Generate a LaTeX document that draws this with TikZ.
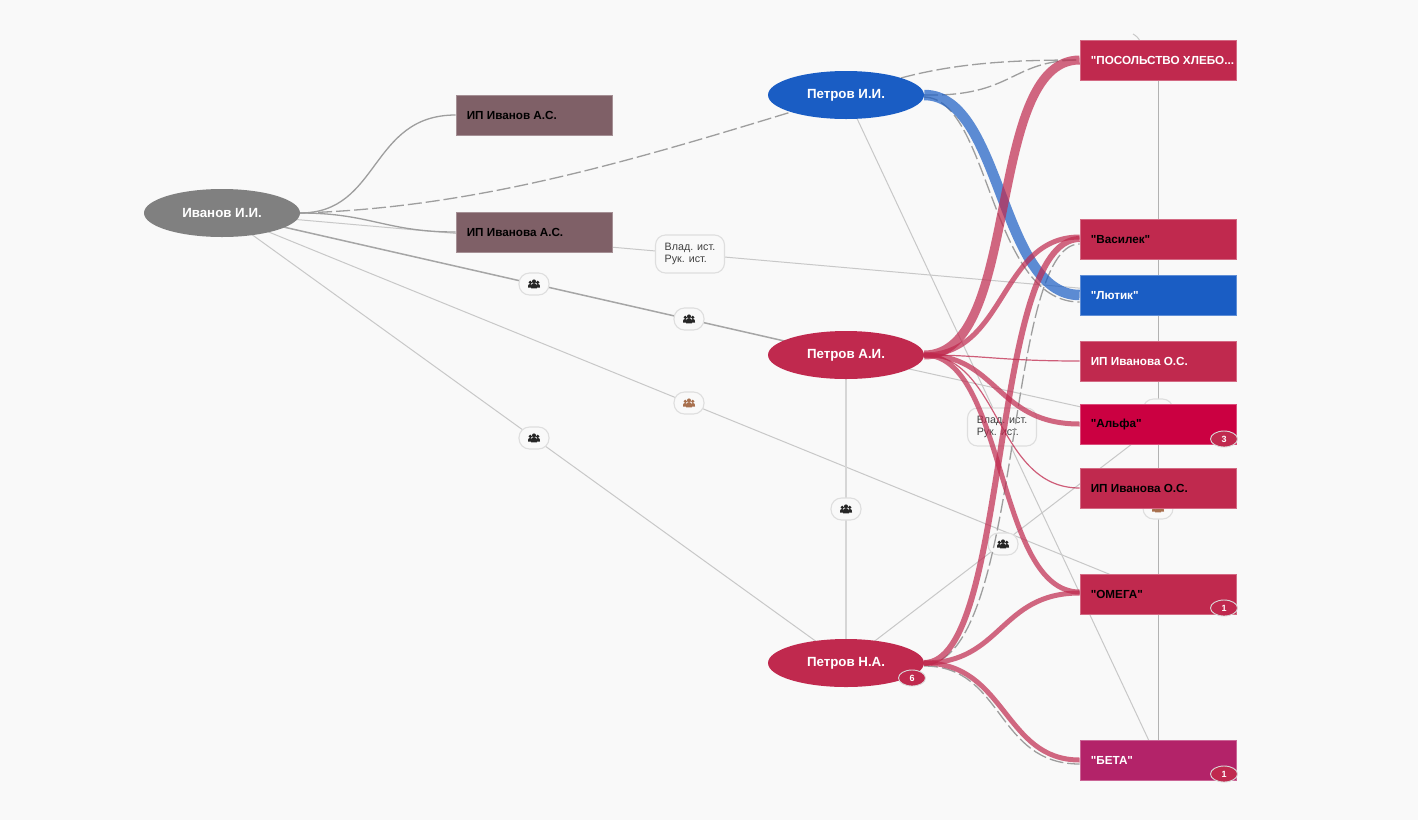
\documentclass[tikz,border=0pt]{standalone}
\usepackage{fontspec}
\setmainfont{Liberation Sans}
\newfontfamily\lib{Liberation Sans}
\usetikzlibrary{shapes.geometric,calc}
\definecolor{bgc}{HTML}{F9F9F9}
\definecolor{crim}{HTML}{C0294E}
\definecolor{blu}{HTML}{1A5DC4}
\definecolor{mauve}{HTML}{7F6067}
\definecolor{gry}{HTML}{808080}
\definecolor{alf}{HTML}{CB0041}
\definecolor{bet}{HTML}{B32369}
\definecolor{brwn}{HTML}{A8704E}
\definecolor{thin}{HTML}{C8C8C8}
\pgfdeclarelayer{paper}\pgfdeclarelayer{lines}\pgfdeclarelayer{pills}\pgfdeclarelayer{thick}
\pgfsetlayers{paper,lines,pills,thick,main}
\tikzset{
 person/.style={ellipse,minimum width=156pt,minimum height=48pt,inner sep=0pt,text=white,font=\lib\fontsize{13.3}{15}\selectfont\bfseries},
 boxshape/.style={rectangle,minimum width=156pt,minimum height=40pt,inner sep=0pt,line width=0.8pt},
 boxtext/.style={anchor=west,inner sep=0pt,font=\lib\fontsize{11.7}{14}\selectfont\bfseries},
 badge/.style={ellipse,fill=crim,draw=white!85!black,line width=0.9pt,minimum width=27pt,minimum height=16pt,inner sep=0pt,text=white,font=\lib\fontsize{9}{10}\selectfont\bfseries},
 pill/.style={rectangle,rounded corners=10.5pt,fill=bgc,draw=black!13,line width=1.1pt,minimum width=30pt,minimum height=22pt,inner sep=0pt},
 lblpill/.style={rectangle,rounded corners=10pt,fill=bgc,draw=black!13,line width=1.1pt,minimum width=69pt,minimum height=38pt,inner sep=0pt,align=left,text=black!75,font=\lib\fontsize{10.7}{12.5}\selectfont},
 thinline/.style={draw=thin,line width=1pt},
 softcurve/.style={draw=black!38,line width=1.3pt},
 dashline/.style={draw=black!38,line width=1.3pt,dash pattern=on 14pt off 4pt},
 redbig/.style={draw=crim,draw opacity=.7,line width=9pt},
 redmid/.style={draw=crim,draw opacity=.7,line width=5pt},
 redlow/.style={draw=crim,draw opacity=.75,line width=1.2pt},
 blueband/.style={draw=blu,draw opacity=.7,line width=10.5pt},
 pics/people/.style={code={
   \fill[#1] (-3.7,-1.6) circle (1.8pt) (3.7,-1.6) circle (1.8pt) (0,-2.6) circle (2pt);
   \fill[#1] (-6,3.6) .. controls (-6,0) and (-5,0) .. (-3.7,0) .. controls (-2.4,0) and (-2,1) .. (-2,3.6) -- cycle;
   \fill[#1] (6,3.6) .. controls (6,0) and (5,0) .. (3.7,0) .. controls (2.4,0) and (2,1) .. (2,3.6) -- cycle;
   \fill[#1] (-3,4.4) .. controls (-3,-0.6) and (-1.5,-0.9) .. (0,-0.9) .. controls (1.5,-0.9) and (3,-0.6) .. (3,4.4) -- cycle;
 }}
}
\newcommand{\ebox}[6]{% name, x, y, fill, text colour, text
 \node[boxshape,fill=#4,draw=#4!70!white] (#1) at (#2,#3) {};
 \node[boxtext,text=#5] (#1t) at ([xshift=11pt,yshift=-0.5pt]#1.west) {#6};
}
\begin{document}
\begin{tikzpicture}[x=1pt,y=-1pt]
\useasboundingbox (0,0) rectangle (1418,820);
\begin{pgfonlayer}{paper}
\fill[bgc] (0,0) rectangle (1418,820);
\end{pgfonlayer}
% people
\node[person,fill=gry] (iv) at (222,213) {Иванов И.И.};
\node[person,fill=blu] (pi) at (846,95) {Петров И.И.};
\node[person,fill=crim] (pa) at (846,355) {Петров А.И.};
\node[person,fill=crim] (pn) at (846,663) {Петров Н.А.};
% boxes
\ebox{ipa}{534}{115}{mauve}{black}{ИП Иванов А.С.}
\ebox{ipb}{534}{232}{mauve}{black}{ИП Иванова А.С.}
\ebox{pos}{1158}{60}{crim}{white}{"ПОСОЛЬСТВО ХЛЕБО...}
\ebox{vas}{1158}{239}{crim}{black}{"Василек"}
\ebox{lut}{1158}{295}{blu}{white}{"Лютик"}
\ebox{ipo}{1158}{361}{crim}{white}{ИП Иванова О.С.}
\ebox{alfa}{1158}{424}{alf}{black}{"Альфа"}
\ebox{ipp}{1158}{488}{crim}{black}{ИП Иванова О.С.}
\ebox{om}{1158}{594}{crim}{black}{"ОМЕГА"}
\ebox{beta}{1158}{760}{bet}{white}{"БЕТА"}
% badges
\node[badge] (b3) at (1224,439) {3};
\node[badge] (b1) at (1224,608) {1};
\node[badge] (b2) at (1224,774) {1};
\node[badge] (b6) at (912,678) {6};
\coordinate (topa) at (1133,34);
\coordinate (topb) at (1140,41);
% thin straight lines, centre to centre, behind the nodes
\begin{pgfonlayer}{lines}
 \draw[thinline,draw=black!30] (pos.center) -- (beta.center);
 \draw[thinline] (topa) to[bend left=15] (topb);
 \draw[thinline] (pi.center) -- (beta.center);
 \draw[thinline] (iv.center) -- (lut.center);
 \draw[thinline,draw=black!35,line width=1.5pt] (iv.center) -- (pa.center);
 \draw[thinline] (iv.center) -- (om.center);
 \draw[thinline] (iv.center) -- (pn.center);
 \draw[thinline,line width=1.6pt,draw=black!16] (pa.center) -- (pn.center);
 \draw[thinline] (pn.center) -- (alfa.center);
 \draw[thinline] (pa.center) -- (alfa.center);
\end{pgfonlayer}
% pills on the lines
\begin{pgfonlayer}{pills}
 \node[lblpill] (l1) at (690,254) {Влад. ист.\\Рук. ист.};
 \node[lblpill] (l2) at (1002,427) {Влад. ист.\\Рук. ист.};
 \node[pill] (i1) at (534,284) {};
 \node[pill] (i2) at (689,319) {};
 \node[pill] (i3) at (689,403) {};
 \node[pill] (i4) at (534,438) {};
 \node[pill] (i5) at (846,509) {};
 \node[pill] (i6) at (1003,544) {};
 \node[pill] (i7) at (1158,410) {};
 \node[pill] (i8) at (1158,508) {};
 \pic at (i1) {people=black!85};
 \pic at (i2) {people=black!85};
 \pic at (i3) {people=brwn};
 \pic at (i4) {people=black!85};
 \pic at (i5) {people=black!85};
 \pic at (i6) {people=black!85};
 \pic at (i8) {people=brwn};
\end{pgfonlayer}
% curved ownership connectors
\begin{pgfonlayer}{thick}
 \draw[softcurve] (iv.east) .. controls +(80,0) and +(-86,0) .. (ipa.west);
 \draw[softcurve] (iv.east) .. controls +(70,0) and +(-70,0) .. (ipb.west);
 \draw[dashline] (iv.east) .. controls +(170,-5) and +(-170,52) .. (pi.south west);
 \draw[dashline] (pi.north east) .. controls +(60,-16) and +(-60,0) .. (pos.west);
 \draw[dashline] (pi.east) .. controls +(90,2) and +(-70,0) .. (pos.west);
 \draw[dashline] ([yshift=-2pt]pi.east) .. controls +(66,2) and +(-90,0) .. ([yshift=-7pt]lut.west);
 \draw[dashline] ([yshift=-2pt]pn.east) .. controls +(100,-4) and +(-76,0) .. ([yshift=-5pt]vas.west);
 \draw[dashline] ([yshift=-3pt]pn.east) .. controls +(80,0) and +(-84,0) .. ([yshift=-4pt]beta.west);
 \draw[blueband] (pi.east) .. controls +(78,0) and +(-80,0) .. (lut.west);
 \draw[redbig] (pa.east) .. controls +(98,0) and +(-95,0) .. (pos.west);
 \draw[redmid] (pa.east) .. controls +(82,0) and +(-80,0) .. ([yshift=2pt]vas.west);
 \draw[redlow] (pa.east) .. controls +(60,0) and +(-80,0) .. (ipo.west);
 \draw[redmid] (pa.east) .. controls +(74,0) and +(-84,0) .. (alfa.west);
 \draw[redlow] (pa.east) .. controls +(76,0) and +(-84,0) .. (ipp.west);
 \draw[redmid] (pa.east) .. controls +(82,0) and +(-84,0) .. ([yshift=2pt]om.west);
 \draw[redmid,line width=6pt] (pn.east) .. controls +(86,0) and +(-90,0) .. (vas.west);
 \draw[redmid] (pn.east) .. controls +(78,0) and +(-80,0) .. ([yshift=1pt]om.west);
 \draw[redmid] (pn.east) .. controls +(82,0) and +(-76,0) .. (beta.west);
\end{pgfonlayer}
\end{tikzpicture}
\end{document}
